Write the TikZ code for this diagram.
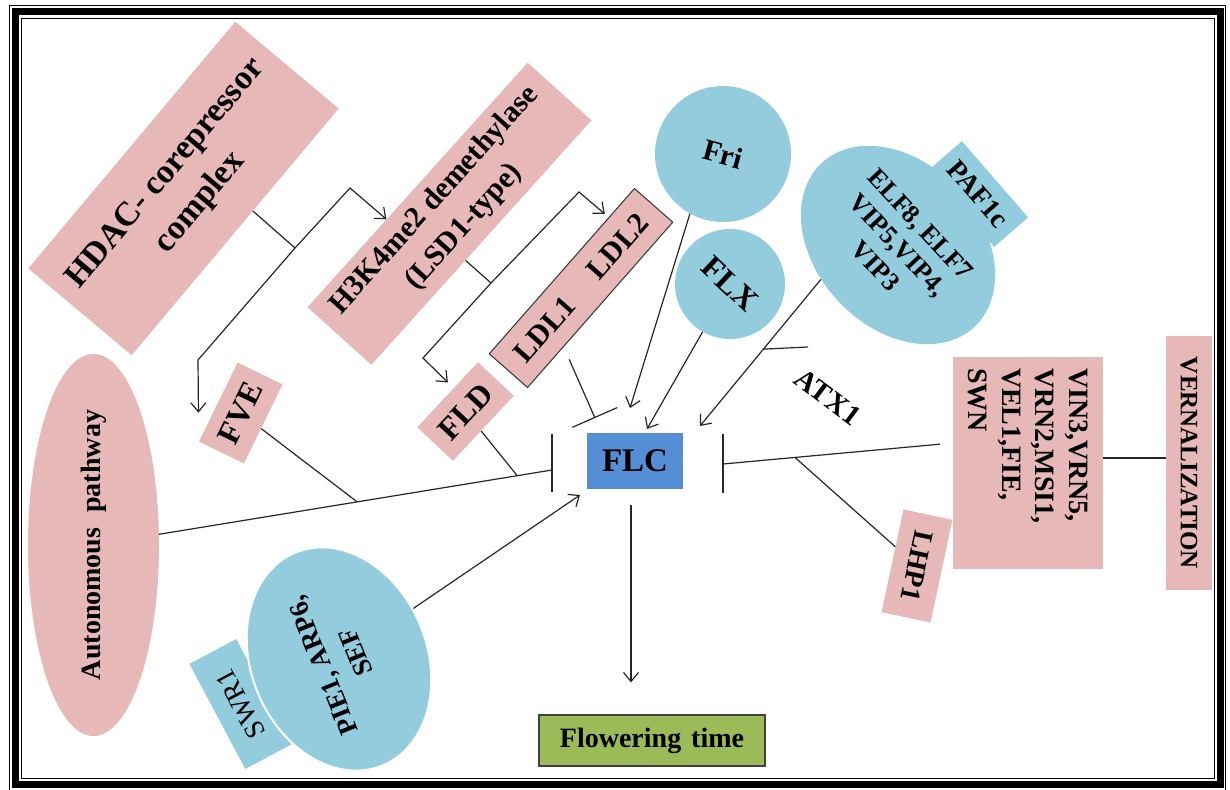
\documentclass[tikz,border=0pt]{standalone}
\usepackage{fontspec}
\setmainfont{Liberation Serif}
\usepackage{graphicx}
\usetikzlibrary{shapes.geometric, arrows.meta, calc, positioning}
\definecolor{rosebox}{RGB}{230,185,184}
\definecolor{skyblob}{RGB}{147,205,221}
\definecolor{flcblue}{RGB}{85,142,213}
\definecolor{leafgreen}{RGB}{155,187,89}
\newcommand{\setfs}[2]{\fontsize{#1}{#2}\selectfont}

\begin{document}
\begin{tikzpicture}[
    x=1pt, y=-1pt,
    >={Straight Barb[length=9pt,width=15pt]},
    pinkbox/.style={fill=rosebox, inner sep=0pt, align=center},
    bluebox/.style={fill=skyblob, inner sep=0pt, align=center},
    wire/.style={line width=1.2pt, draw=black!85},
    act/.style={wire, ->},
    inhib/.style={wire, -{Bar[width=49pt]}},
]

% frame
\useasboundingbox (0,0) rectangle (1230,789);
\draw[line width=1pt] (9,6) rectangle (1225,791);
\draw[line width=7pt] (15.5,11.5) rectangle (1220,784);
\draw[line width=1.2pt] (21.8,18.6) rectangle (1214.8,778.5);

% chromatin regulators (left)
\node[pinkbox, rotate=50, minimum width=322pt, minimum height=135pt, font=\bfseries\setfs{34}{45}] (HDAC) at (183.5,188.5) {HDAC- corepressor\\complex};
\node[pinkbox, rotate=48, minimum width=329pt, minimum height=86pt, font=\bfseries\setfs{30}{40}] (H3K) at (449.5,213.75) {H3K4me2 demethylase\\(LSD1-type)};
\node[pinkbox, draw=black!80, line width=1pt, rotate=48.7, minimum width=220pt, minimum height=51pt, font=\bfseries\setfs{30}{36}] (LDL) at (581,288) {LDL1\hspace{34pt}LDL2};
\node[pinkbox, rotate=47, minimum width=89pt, minimum height=49pt, font=\bfseries\setfs{32}{38}] (FLD) at (465.5,411.5) {FLD};
\node[pinkbox, rotate=64, minimum width=88pt, minimum height=50pt, font=\bfseries\setfs{32}{38}] (FVE) at (240.75,413) {FVE};
\node[pinkbox, ellipse, rotate=90, minimum width=330pt, minimum height=131pt, font=\bfseries\setfs{28}{34}] (Auto) at (93.5,545) {Autonomous\hspace{15pt}pathway};

% activators (blue)
\node[bluebox, circle, minimum size=136pt, font=\bfseries\setfs{30}{36}] (Fri) at (723,154) {\rotatebox{-15}{Fri}};
\node[bluebox, circle, minimum size=110pt, font=\bfseries\setfs{32}{38}] (FLX) at (730,284) {\rotatebox{-43}{FLX}};
\node[bluebox, ellipse, rotate=-47, minimum width=224pt, minimum height=164pt, font=\bfseries\setfs{26}{30.5}] (ELF) at (898,245) {ELF8, ELF7\\VIP5,VIP4,\\VIP3};
\node[bluebox, rotate=-49, minimum width=101pt, minimum height=45pt, font=\bfseries\setfs{28}{34}] (PAF) at (978,194) {PAF1c};
\node[bluebox, rotate=118, minimum width=119pt, minimum height=53pt, font=\setfs{28}{34}] (SWR) at (240.75,704) {SWR1};
\node[bluebox, ellipse, draw=white, line width=2pt, rotate=112, minimum width=230pt, minimum height=176pt, font=\bfseries\setfs{27}{36}] (PIE) at (339,659) {PIE1, ARP6,\\SEF};

% vernalization (right)
\node[pinkbox, rotate=-90, minimum width=212pt, minimum height=150pt, text width=190pt, align=left, font=\bfseries\setfs{28}{33.5}] (VIN) at (1028,463) {VIN3,VRN5,\\VRN2,MSI1,\\VEL1,FIE,\\SWN};
\node[pinkbox, rotate=-90, minimum width=254pt, minimum height=46pt, font=\bfseries\setfs{25}{30}] (VERN) at (1189,463) {VERNALIZATION};
\node[pinkbox, rotate=-102, minimum width=105pt, minimum height=50pt, font=\bfseries\setfs{28}{34}] (LHP) at (917,566) {LHP1};
\node[rotate=-37, inner sep=0pt, font=\bfseries\setfs{29}{34}] (ATX) at (828,397) {ATX1};

% target and output
\node[fill=flcblue, minimum width=96pt, minimum height=56pt, inner sep=0pt, font=\bfseries\setfs{33}{38}] (FLC) at (635,461) {FLC};
\node[fill=leafgreen, draw=black!75, line width=1.2pt, minimum width=226pt, minimum height=51pt, inner sep=0pt, font=\bfseries\setfs{28}{34}] (Flower) at (652,740.5) {Flowering\hspace{10pt}time};

% bars, tips and junctions
\coordinate (lbarT) at (552,434);
\coordinate (lbarB) at (552,492);
\coordinate (lbar) at (552,470);
\coordinate (rbarT) at (723,434);
\coordinate (rbarB) at (723,493);
\coordinate (rbar) at (723,464);
\coordinate (friTip) at (630,408);
\coordinate (flxTip) at (647,429);
\coordinate (elfTip) at (700,426);
\coordinate (pieTip) at (580,495);
\coordinate (ldlBar) at (595,418);
\coordinate (hdacJ) at (295,248);
\coordinate (hdacUp) at (350,188);
\coordinate (hdacDn) at (198,360);
\coordinate (h3kJ) at (491,283);
\coordinate (h3kUp) at (579,192);
\coordinate (h3kDn) at (423,358);
\coordinate (fveJ) at ($(lbar)!0.425!(Auto.center)$);
\coordinate (fldJ) at ($(lbar)!0.076!(Auto.center)$);
\coordinate (vinOut) at ([yshift=20pt]VIN.south);
\coordinate (lhpJ) at ($(rbar)!0.313!(vinOut)$);
\coordinate (atxJ) at ($(ELF.-109)!0.476!(elfTip)$);
\coordinate (atxEnd) at (808,347);
\coordinate (flcOut) at ([xshift=-4pt]FLC.south);

% repression of FLC
\draw[wire] (lbarT) -- (lbarB);
\draw[wire] (rbarT) -- (rbarB);
\draw[wire] (Auto) -- (lbar);
\draw[wire] (FVE) -- (fveJ);
\draw[wire] (FLD) -- (fldJ);
\draw[inhib, shorten <=13.5pt] (LDL.205) -- (ldlBar);
\draw[wire, shorten <=13pt] (vinOut) -- (rbar);
\draw[wire] (LHP) -- (lhpJ);
\draw[wire] ([yshift=5pt]VIN.north) -- ([yshift=5pt]VERN.south);

% activation of FLC
\draw[act] (Fri.-119) -- (friTip);
\draw[act] (FLX) -- (flxTip);
\draw[act] (ELF.-109) -- (elfTip);
\draw[wire] (atxJ) -- (atxEnd);
\draw[act] (PIE) -- (pieTip);
\draw[act, shorten <=16pt, shorten >=32pt] (flcOut) -- (flcOut |- Flower.north);

% upstream regulators
\draw[wire] (HDAC.-68) -- (hdacJ);
\draw[act] (hdacJ) -- (hdacUp) -- (H3K.137);
\draw[act, shorten >=29pt] (hdacJ) -- (hdacDn) -- (FVE.north west);
\draw[wire] (H3K.-119) -- (h3kJ);
\draw[act, shorten >=5pt] (h3kJ) -- (h3kUp) -- (LDL.20);
\draw[act, shorten >=8pt] (h3kJ) -- (h3kDn) -- (FLD.70);

\end{tikzpicture}
\end{document}
